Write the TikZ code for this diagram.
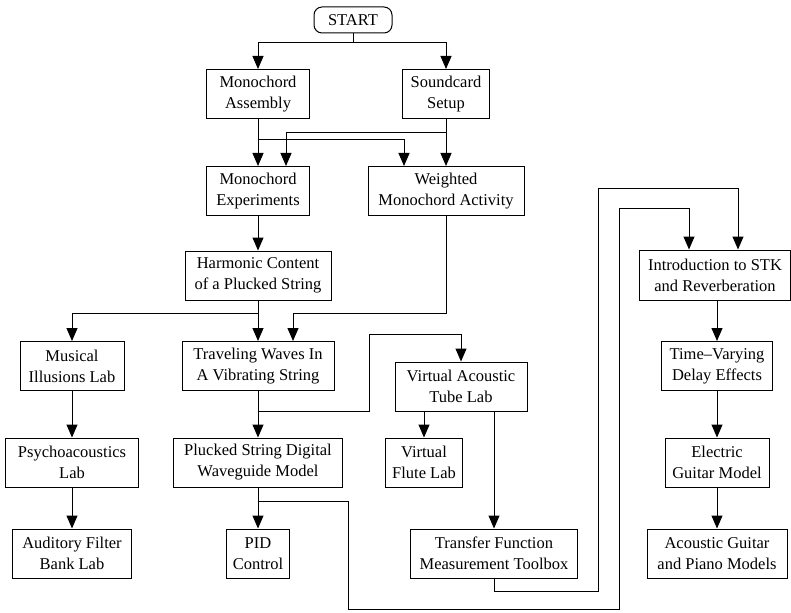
\documentclass[tikz,border=0pt]{standalone}
\usepackage{fontspec}
\setmainfont{Liberation Serif}
\usetikzlibrary{arrows.meta}

\tikzstyle{blk}=[draw, align=center, minimum height=49pt, inner xsep=2pt, inner ysep=0pt, font=\fontsize{16.5}{21}\selectfont]
\tikzstyle{arr}=[-{Triangle[length=13pt,width=11pt]}]

\begin{document}
\begin{tikzpicture}[x=1pt, y=-1pt, line width=1pt]
  \useasboundingbox (0,0) rectangle (791,612);

  \node[blk, rounded corners=8pt, minimum width=78pt, minimum height=26pt] (start) at (353,20) {START};

  \node[blk, minimum width=103pt] (asm) at (258,94) {Monochord\\Assembly};
  \node[blk, minimum width=87pt] (snd) at (446,94) {Soundcard\\Setup};
  \node[blk, minimum width=103pt] (exp) at (258,191) {Monochord\\Experiments};
  \node[blk, minimum width=156pt] (wgt) at (446,191) {Weighted\\Monochord Activity};
  \node[blk, minimum width=146pt] (harm) at (258,275.5) {Harmonic Content\\of a Plucked String};

  \node[blk, minimum width=104pt] (mus) at (72,366) {Musical\\Illusions Lab};
  \node[blk, minimum width=152pt] (trav) at (258,366) {Traveling Waves In\\A Vibrating String};
  \node[blk, minimum width=132pt] (vatl) at (461,386.5) {Virtual Acoustic\\Tube Lab};

  \node[blk, minimum width=133pt] (psy) at (72,462.5) {Psychoacoustics\\Lab};
  \node[blk, minimum width=169pt] (pluck) at (258,462.5) {Plucked String Digital\\Waveguide Model};
  \node[blk, minimum width=77pt] (flute) at (424,462.5) {Virtual\\Flute Lab};

  \node[blk, minimum width=119pt] (aud) at (72,553.5) {Auditory Filter\\Bank Lab};
  \node[blk, minimum width=63pt] (pid) at (258,553.5) {PID\\Control};
  \node[blk, minimum width=167pt] (tf) at (494,553.5) {Transfer Function\\Measurement Toolbox};

  \node[blk, minimum width=151pt, minimum height=50pt] (intro) at (715,275) {Introduction to STK\\and Reverberation};
  \node[blk, minimum width=111pt] (tvd) at (717,366) {Time--Varying\\Delay Effects};
  \node[blk, minimum width=104pt] (egm) at (717,462.5) {Electric\\Guitar Model};
  \node[blk, minimum width=140pt] (agp) at (717,553.5) {Acoustic Guitar\\and Piano Models};

  % rows and columns of the routed lines
  \coordinate (r1) at (0,43);
  \coordinate (r2) at (0,140);
  \coordinate (r3) at (0,133);
  \coordinate (r4) at (0,313);
  \coordinate (r5) at (0,411);
  \coordinate (r6) at (0,334);
  \coordinate (r7) at (0,501);
  \coordinate (r8) at (0,609);
  \coordinate (r9) at (0,591);
  \coordinate (r10) at (0,189);
  \coordinate (r11) at (0,209);
  \coordinate (c1) at (404,0);
  \coordinate (c2) at (286,0);
  \coordinate (c3) at (293,0);
  \coordinate (c4) at (369,0);
  \coordinate (c5) at (348,0);
  \coordinate (c6) at (619,0);
  \coordinate (c7) at (598,0);
  \coordinate (c8) at (689,0);
  \coordinate (c9) at (738,0);

  \draw[arr] (start.south) -- (start.south |- r1) -| (asm.north);
  \draw[arr] (start.south |- r1) -| (snd.north);

  \path (asm) edge [arr] (exp);
  \draw[arr] (asm.south |- r2) -| (wgt.north -| c1);
  \path (snd) edge [arr] (wgt);
  \draw[arr] (snd.south |- r3) -| (exp.north -| c2);

  \path (exp) edge [arr] (harm);
  \path (harm) edge [arr] (trav);
  \draw[arr] (harm.south |- r4) -| (mus.north);
  \draw[arr] (wgt.south) -- (wgt.south |- r4) -| (trav.north -| c3);

  \path (trav) edge [arr] (pluck);
  \draw[arr] (trav.south |- r5) -| (c4 |- r6) -| (vatl.north);
  \draw[arr] (vatl.south -| flute.north) -- (flute.north);
  \draw[arr] (vatl.south -| tf.north) -- (tf.north);

  \path (pluck) edge [arr] (pid);
  \draw[arr] (pluck.south |- r7) -| (c5 |- r8) -| (c6 |- r11) -| (intro.north -| c8);
  \draw[arr] (tf.south) -- (tf.south |- r9) -| (c7 |- r10) -| (intro.north -| c9);

  \path (mus) edge [arr] (psy);
  \path (psy) edge [arr] (aud);

  \draw[arr] (intro.south -| tvd.north) -- (tvd.north);
  \path (tvd) edge [arr] (egm);
  \path (egm) edge [arr] (agp);

\end{tikzpicture}
\end{document}
